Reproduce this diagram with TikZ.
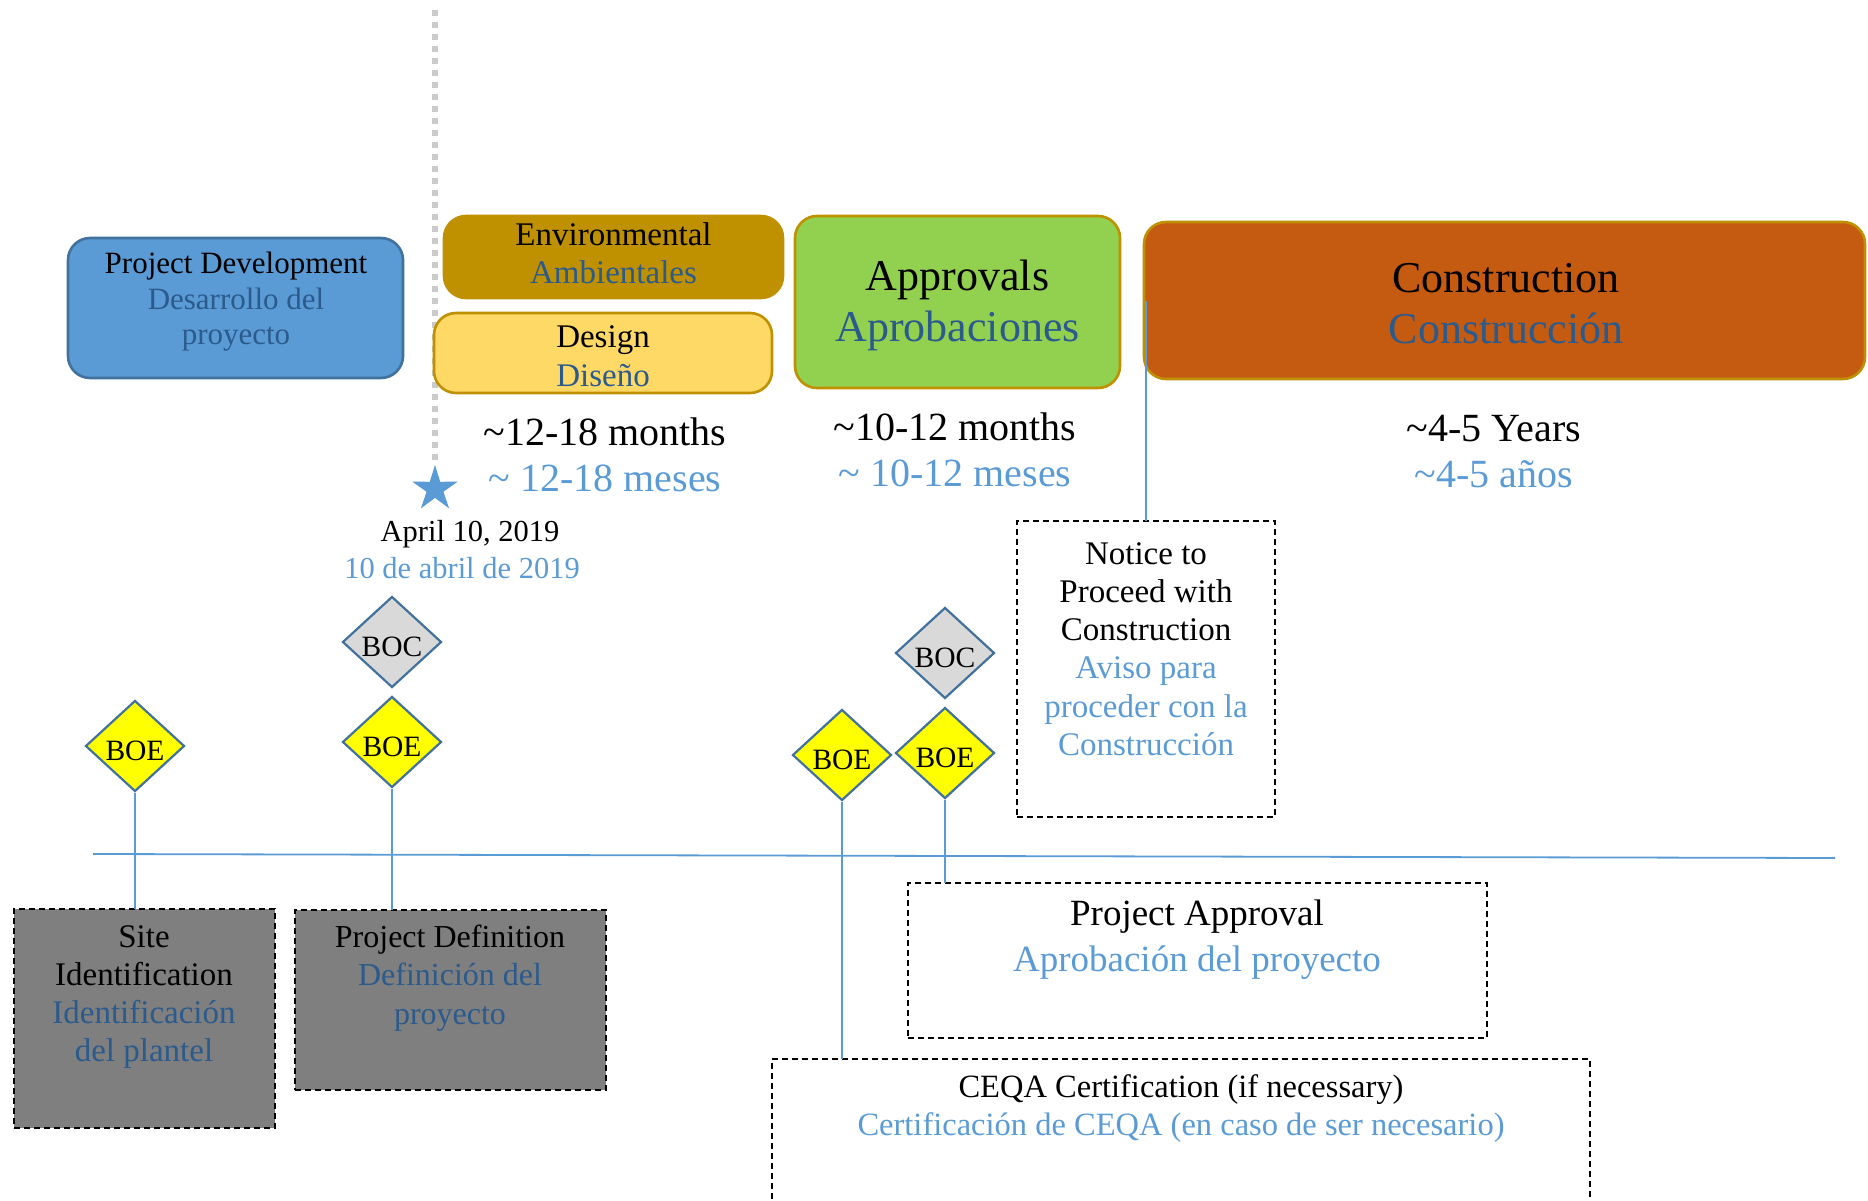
\documentclass[tikz,border=0pt]{standalone}
\usepackage{fontspec}
\setmainfont{Liberation Serif}
\usetikzlibrary{shapes.geometric}
\definecolor{lblue}{HTML}{5B9BD5}
\definecolor{dblue}{HTML}{2B5A8C}
\definecolor{pdborder}{HTML}{41719C}
\definecolor{gold}{HTML}{BF9000}
\definecolor{designfill}{HTML}{FFD966}
\definecolor{apgreen}{HTML}{92D050}
\definecolor{conorange}{HTML}{C55A11}
\definecolor{diayellow}{HTML}{FFFF00}
\definecolor{diagray}{HTML}{D9D9D9}
\definecolor{boxgray}{HTML}{7F7F7F}
\definecolor{dotgray}{HTML}{CACACA}
\newcommand{\fs}[2]{\fontsize{#1}{#2}\selectfont}
\begin{document}
\begin{tikzpicture}[x=1pt,y=-1pt,
  phase/.style={rounded corners=22pt, line width=2.6pt, anchor=north west, inner sep=0pt, outer sep=0pt},
  lbl/.style={align=center, inner sep=0pt},
  dia/.style={diamond, draw=pdborder, line width=2.2pt, minimum width=99pt, minimum height=91pt, inner sep=0pt, text height=29pt, font=\fs{29.5}{31}},
  dbox/.style={draw=black, dash pattern=on 6pt off 4pt, line width=2pt, anchor=north west, inner sep=0pt, outer sep=0pt},
  conn/.style={draw=lblue, line width=1.8pt},
]
\useasboundingbox (0,0) rectangle (1868,1201);

% dotted milestone line and star
\coordinate (dtop) at (435,10);
\node[star, star points=5, star point ratio=2.7, fill=lblue, minimum size=48pt, inner sep=0pt] (star) at (435,489) {};
\draw[dotgray, line width=6pt, dash pattern=on 6pt off 6pt] (dtop) -- (star.north);

% phase boxes
\node[phase, fill=lblue, draw=pdborder, minimum width=335pt, minimum height=140pt] (pd) at (68,238) {};
\node[lbl, font=\fs{31}{35.5}] at (236,302) {Project Development\\\color{dblue}Desarrollo del\\\color{dblue}proyecto};

\node[phase, fill=gold, draw=gold, minimum width=339pt, minimum height=82pt] (env) at (444,216) {};
\node[lbl, font=\fs{33}{38.5}] at (613.5,253) {Environmental\\\color{dblue}Ambientales};

\node[phase, fill=designfill, draw=gold, minimum width=338pt, minimum height=80pt] (design) at (434,313) {};
\node[lbl, font=\fs{33}{38.5}] at (603,356) {Design\\\color{dblue}Diseño};

\node[phase, fill=apgreen, draw=gold, minimum width=325pt, minimum height=172pt] (appr) at (795,216) {};
\node[lbl, font=\fs{44}{51}] at (957.5,305) {Approvals\\\color{dblue}Aprobaciones};

\node[phase, fill=conorange, draw=gold, minimum width=721pt, minimum height=157pt] (constr) at (1144,222) {};
\node[lbl, font=\fs{44}{51}] at (1506,304) {Construction\\\color{dblue}Construcción};

% durations
\node[lbl, font=\fs{40}{46}] (dur1) at (605,455) {\textasciitilde12-18 months\\\color{lblue}\textasciitilde\ 12-18 meses};
\node[lbl, font=\fs{40}{46}] (dur2) at (955,450) {\textasciitilde10-12 months\\\color{lblue}\textasciitilde\ 10-12 meses};
\node[lbl, font=\fs{40}{46}] (dur3) at (1494,452) {\textasciitilde4-5 Years\\\color{lblue}\textasciitilde4-5 años};

% date
\node[lbl, font=\fs{30.5}{37}] (date) at (462,550) {\hspace*{16pt}April 10, 2019\\\color{lblue}10 de abril de 2019};

% notice box
\node[dbox, minimum width=258pt, minimum height=296pt] (notice) at (1017,521) {};
\node[lbl, font=\fs{33}{38.2}] at (1146,649) {Notice to\\Proceed with\\Construction\\\color{lblue}Aviso para\\\color{lblue}proceder con la\\\color{lblue}Construcción};
\draw[conn] (notice.north) -- (notice.north |- constr.west);

% timeline
\coordinate (tl1) at (93,854);
\coordinate (tl2) at (1835,858);
\draw[conn] (tl1) -- (tl2);

% diamonds
\node[dia, fill=diayellow] (boe1) at (135,746) {BOE};
\node[dia, fill=diagray] (boc1) at (392,642) {BOC};
\node[dia, fill=diayellow] (boe2) at (392,742) {BOE};
\node[dia, fill=diagray] (boc2) at (945,653) {BOC};
\node[dia, fill=diayellow] (boe3) at (842,755) {BOE};
\node[dia, fill=diayellow] (boe4) at (945,753) {BOE};

% lower boxes
\node[dbox, fill=boxgray, minimum width=261pt, minimum height=219pt] (site) at (14,909) {};
\node[lbl, font=\fs{33}{38}] at (144,997) {Site\\Identification\\\color{dblue}Identificación\\\color{dblue}del plantel};

\node[dbox, fill=boxgray, minimum width=311pt, minimum height=180pt] (pdef) at (295,910) {};
\node[lbl, font=\fs{32}{38.5}] at (450,978) {Project Definition\\\color{dblue}Definición del\\\color{dblue}proyecto};

\node[dbox, minimum width=579pt, minimum height=155pt] (papp) at (908,883) {};
\node[lbl, font=\fs{37}{46}] at (1197,940) {Project Approval\\\color{lblue}Aprobación del proyecto};

\node[dbox, minimum width=818pt, minimum height=160pt] (ceqa) at (772,1059) {};
\node[lbl, font=\fs{32.5}{38}] at (1181,1109) {CEQA Certification (if necessary)\\\color{lblue}Certificación de CEQA (en caso de ser necesario)};

% connectors
\draw[conn] (boe1.south) -- (boe1.south |- site.north);
\draw[conn] (boe2.south) -- (boe2.south |- pdef.north);
\draw[conn] (boe3.south) -- (boe3.south |- ceqa.north);
\draw[conn] (boe4.south) -- (boe4.south |- papp.north);
\end{tikzpicture}
\end{document}
